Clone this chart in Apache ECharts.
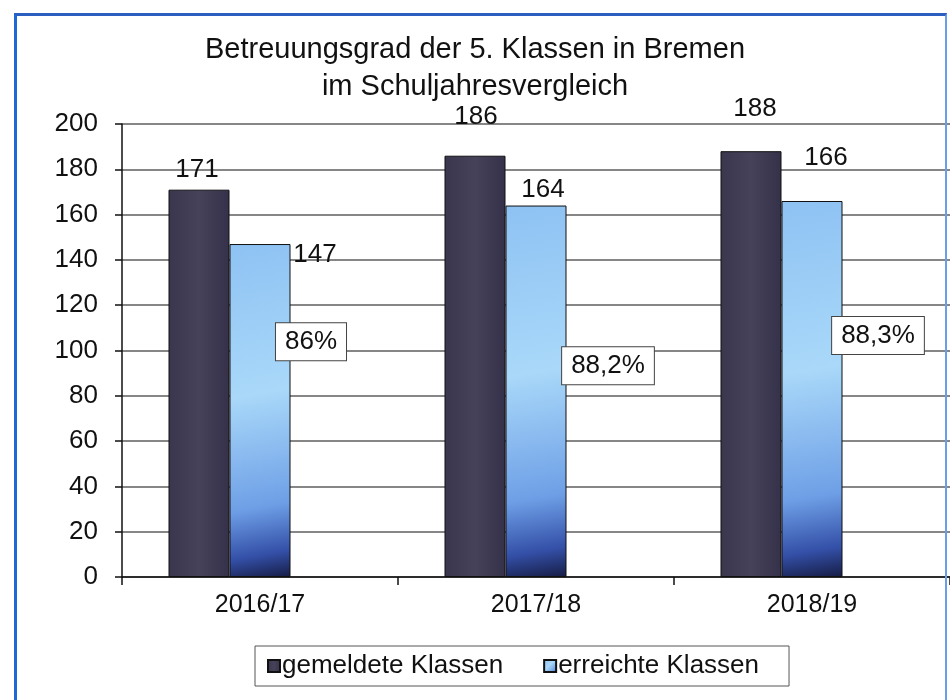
<!DOCTYPE html>
<html>
<head>
<meta charset="utf-8">
<script src="https://cdn.jsdelivr.net/npm/echarts@6/dist/echarts.min.js"></script>
<style>
  html, body { margin: 0; padding: 0; background: #fff; }
  #chart { position: absolute; left: 0; top: 0; width: 950px; height: 700px; }
  #frame { position: absolute; left: 14px; top: 13px; width: 933px; height: 700px;
           border-left: 3px solid #1f66d6; border-top: 3px solid #2a5fbf; border-right: 2px solid #6a9ee8;
           pointer-events: none; box-sizing: border-box; }
</style>
</head>
<body>
<div id="chart"></div>
<div id="frame"></div>
<script>
// ---- data ----
const categories = ['2016/17', '2017/18', '2018/19'];
const gemeldeteKlassen = [171, 186, 188];
const erreichteKlassen = [147, 164, 166];
const betreuungsgrad = [86, 88.2, 88.3];
const seriesNames = ['gemeldete Klassen', 'erreichte Klassen'];
const titleLines = ['Betreuungsgrad der 5. Klassen in Bremen', 'im Schuljahresvergleich'];
const yMin = 0, yMax = 200, yStep = 20;

// ---- label placement (style only) ----
const offGemeldet = [[-2, -2], [1, -21], [4, -24]];
const offErreicht = [[55, 29], [7, 2], [14, -25]];
const offQuote = [[-10, -17], [11, 12], [5, -18]];

const FONT = 'Liberation Sans, Arial, sans-serif';
const TXT = '#111';

function withOffsets(values, offsets) {
  return values.map((v, i) => ({ value: v, label: { offset: offsets[i] } }));
}

const chart = echarts.init(document.getElementById('chart'), null, { renderer: 'canvas' });
chart.setOption({
  backgroundColor: '#ffffff',
  animation: false,
  textStyle: { fontFamily: FONT },
  title: {
    text: titleLines.join('\n'),
    left: 'center',
    top: 31,
    padding: 0,
    textStyle: { fontSize: 29, fontWeight: 'normal', color: TXT, lineHeight: 37, fontFamily: FONT }
  },
  legend: {
    data: seriesNames,
    left: 255,
    top: 646,
    orient: 'horizontal',
    padding: [7, 30, 7, 12],
    itemGap: 40,
    itemWidth: 12,
    itemHeight: 12,
    icon: 'rect',
    borderColor: '#555',
    borderWidth: 1,
    backgroundColor: '#fff',
    textStyle: { fontSize: 26, color: TXT, fontFamily: FONT, padding: [0, 0, 0, -3] }
  },
  grid: { left: 122, right: 0, top: 124, bottom: 123 },
  xAxis: {
    type: 'category',
    data: categories,
    axisLine: { lineStyle: { color: '#111', width: 1.5 } },
    axisTick: { show: true, length: 8, lineStyle: { color: '#111', width: 1.5 } },
    axisLabel: { fontSize: 25, color: TXT, margin: 16, fontFamily: FONT }
  },
  yAxis: {
    type: 'value',
    min: yMin, max: yMax, interval: yStep,
    axisLine: { show: true, lineStyle: { color: '#111', width: 1.5 } },
    axisTick: { show: true, length: 7, lineStyle: { color: '#111', width: 1.5 } },
    axisLabel: { fontSize: 26, color: TXT, margin: 24, fontFamily: FONT },
    splitLine: { show: true, lineStyle: { color: '#5e5e5e', width: 1.5 } }
  },
  series: [
    {
      name: seriesNames[0],
      type: 'bar',
      barWidth: 61,
      barGap: '0%',
      data: withOffsets(gemeldeteKlassen, offGemeldet),
      itemStyle: {
        color: new echarts.graphic.LinearGradient(0, 0, 1, 0, [
          { offset: 0, color: '#3a364e' },
          { offset: 0.5, color: '#464259' },
          { offset: 1, color: '#35314a' }
        ]),
        borderColor: '#111', borderWidth: 1
      },
      label: { show: true, position: 'top', distance: 5, fontSize: 26, color: TXT, fontFamily: FONT }
    },
    {
      name: seriesNames[1],
      type: 'bar',
      barWidth: 61,
      barGap: '0%',
      data: withOffsets(erreichteKlassen, offErreicht),
      itemStyle: {
        color: new echarts.graphic.LinearGradient(0, 0, 1, 1, [
          { offset: 0, color: '#8ec2f3' },
          { offset: 0.45, color: '#a9d8f9' },
          { offset: 0.78, color: '#6e9fe6' },
          { offset: 0.92, color: '#3450a8' },
          { offset: 1, color: '#161c45' }
        ]),
        borderColor: '#111', borderWidth: 1
      },
      label: { show: true, position: 'top', distance: 5, fontSize: 26, color: TXT, fontFamily: FONT }
    },
    {
      name: 'Betreuungsgrad',
      type: 'bar',
      barWidth: 61,
      barGap: '0%',
      silent: true,
      data: withOffsets(betreuungsgrad, offQuote),
      itemStyle: { color: 'rgba(0,0,0,0)', borderWidth: 0 },
      label: {
        show: true, position: 'top', distance: 5,
        fontSize: 26, color: TXT, fontFamily: FONT,
        backgroundColor: '#fff', borderColor: '#444', borderWidth: 1,
        padding: [6, 9, 5, 9],
        formatter: p => String(p.value).replace('.', ',') + '%'
      }
    }
  ]
});
</script>
</body>
</html>
